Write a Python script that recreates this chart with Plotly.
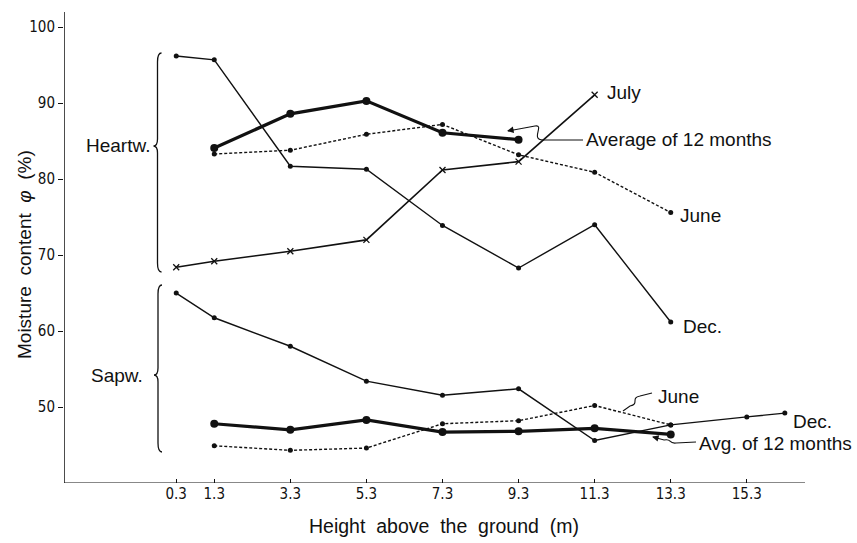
import plotly.graph_objects as go

# ---------------- data ----------------
hw_dec_x = [0.3, 1.3, 3.3, 5.3, 7.3, 9.3, 11.3, 13.3]
hw_dec_y = [96.2, 95.7, 81.7, 81.3, 73.9, 68.3, 74.0, 61.2]

hw_jul_x = [0.3, 1.3, 3.3, 5.3, 7.3, 9.3, 11.3]
hw_jul_y = [68.4, 69.2, 70.5, 72.0, 81.2, 82.3, 91.1]

hw_avg_x = [1.3, 3.3, 5.3, 7.3, 9.3]
hw_avg_y = [84.1, 88.6, 90.3, 86.1, 85.2]

hw_jun_x = [1.3, 3.3, 5.3, 7.3, 9.3, 11.3, 13.3]
hw_jun_y = [83.3, 83.8, 85.9, 87.2, 83.2, 80.9, 75.6]

sw_dec_x = [0.3, 1.3, 3.3, 5.3, 7.3, 9.3, 11.3, 13.3, 15.3, 16.3]
sw_dec_y = [65.0, 61.75, 58.0, 53.4, 51.55, 52.4, 45.6, 47.65, 48.7, 49.2]

sw_avg_x = [1.3, 3.3, 5.3, 7.3, 9.3, 11.3, 13.3]
sw_avg_y = [47.8, 47.0, 48.3, 46.7, 46.8, 47.2, 46.4]

sw_jun_x = [1.3, 3.3, 5.3, 7.3, 9.3, 11.3, 13.3]
sw_jun_y = [44.9, 44.3, 44.6, 47.8, 48.2, 50.2, 47.65]

x_ticks = [0.3, 1.3, 3.3, 5.3, 7.3, 9.3, 11.3, 13.3, 15.3]
x_tick_labels = ["0.3", "1.3", "3.3", "5.3", "7.3", "9.3", "11.3", "13.3", "15.3"]
y_ticks = [50, 60, 70, 80, 90, 100]

# ---------------- layout geometry ----------------
W, H = 857, 543
ML, MR, MT, MB = 64, 52, 12, 60
XR = [-2.65, 16.83]
YR = [40, 102]
pw = W - ML - MR
ph = H - MT - MB


def px2x(px):
    return XR[0] + (px - ML) / pw * (XR[1] - XR[0])


def py2y(py):
    return YR[1] - (py - MT) / ph * (YR[1] - YR[0])


def px2p(px):
    return (px - ML) / pw


def py2p(py):
    return 1 - (py - MT) / ph


BLACK = "#111111"
FONT = "Liberation Sans, Arial, sans-serif"
NARROW = "Liberation Sans Narrow, DejaVu Sans Condensed, Arial, sans-serif"

fig = go.Figure()


def add_line(x, y, width, dash="solid", marker="circle", msize=5, mline=0):
    fig.add_trace(go.Scatter(
        x=x, y=y, mode="lines+markers",
        line=dict(color=BLACK, width=width, dash=dash),
        marker=dict(symbol=marker, size=msize, color=BLACK,
                    line=dict(color=BLACK, width=mline)),
        showlegend=False, hoverinfo="x+y", cliponaxis=False))


add_line(hw_dec_x, hw_dec_y, 1.4)
add_line(hw_jul_x, hw_jul_y, 1.6, marker="x-thin", msize=6, mline=1.3)
add_line(hw_jun_x, hw_jun_y, 1.4, dash="3px,2px", msize=5)
add_line(hw_avg_x, hw_avg_y, 3.2, msize=8)
add_line(sw_dec_x, sw_dec_y, 1.4)
add_line(sw_jun_x, sw_jun_y, 1.4, dash="3px,2px", msize=5)
add_line(sw_avg_x, sw_avg_y, 3.2, msize=8)

shapes = []


def path_str(pts_px):
    s = ""
    for cmd, *ps in pts_px:
        s += cmd + " " + " ".join(f"{px2x(a):.4f},{py2y(b):.4f}" for a, b in ps) + " "
    return s.strip()


def brace(x0, y0, ymid, y1):
    pts = [
        ("M", (x0 + 4, y0)),
        ("Q", (x0, y0), (x0, y0 + 9)),
        ("L", (x0, ymid - 7)),
        ("Q", (x0, ymid), (x0 - 4, ymid)),
        ("Q", (x0, ymid), (x0, ymid + 7)),
        ("L", (x0, y1 - 9)),
        ("Q", (x0, y1), (x0 + 4, y1)),
    ]
    shapes.append(dict(type="path", path=path_str(pts), xref="x", yref="y",
                       line=dict(color=BLACK, width=1.3)))


brace(157.5, 53, 146, 272)
brace(158.0, 285, 375, 452)


def leader(pts_px):
    shapes.append(dict(type="path", path=path_str(pts_px), xref="x", yref="y",
                       line=dict(color=BLACK, width=1.1)))


# heartwood average leader
leader([("M", (583, 140)), ("L", (543, 140)),
        ("C", (530, 140), (545, 124), (535, 126)),
        ("L", (508, 131))])
# sapwood June leader
leader([("M", (652, 393)), ("L", (640, 396)),
        ("C", (630, 398), (640, 404), (630, 406)),
        ("L", (623, 411))])
# sapwood avg leader
leader([("M", (696, 442)), ("L", (676, 443)),
        ("C", (668, 444), (672, 438), (664, 440)),
        ("L", (653, 437))])

# axis lines
shapes.append(dict(type="line", xref="x", yref="y", x0=XR[0], x1=XR[0], y0=YR[0], y1=py2y(6),
                   line=dict(color=BLACK, width=1.5)))
shapes.append(dict(type="line", xref="x", yref="y", x0=XR[0], x1=XR[1], y0=YR[0], y1=YR[0],
                   line=dict(color=BLACK, width=1.0)))

annotations = []


def label(text, px, py, xanchor="left", size=19, font=FONT, textangle=0):
    annotations.append(dict(text=text, x=px2p(px), y=py2p(py), xref="paper", yref="paper",
                            xanchor=xanchor, yanchor="middle", showarrow=False,
                            textangle=textangle,
                            font=dict(family=font, size=size, color=BLACK)))


label("Heartw.", 152, 146, xanchor="right")
label("Sapw.", 145, 375, xanchor="right")
label("July", 605, 93)
label("Average of 12 months", 584, 140)
label("June", 678, 215)
label("Dec.", 681, 326)
label("June", 656, 396)
label("Dec.", 791, 421)
label("Avg. of 12 months", 697, 443)
label("Height  above  the  ground  (m)", 444, 526, xanchor="center", size=19.5)
label("Moisture  content  <i>φ</i>  (%)", 24, 255, xanchor="center", size=19, textangle=-90)

# arrow heads for leaders
for (hx, hy, tx, ty) in [(507, 131, 515, 129.5), (652, 436.7, 659, 438.5)]:
    annotations.append(dict(x=px2x(hx), y=py2y(hy), ax=px2x(tx), ay=py2y(ty),
                            xref="x", yref="y", axref="x", ayref="y", text="",
                            showarrow=True, arrowhead=2, arrowsize=1.2, arrowwidth=1.1,
                            arrowcolor=BLACK))

fig.update_layout(
    width=W, height=H,
    margin=dict(l=ML, r=MR, t=MT, b=MB),
    paper_bgcolor="white", plot_bgcolor="white",
    shapes=shapes, annotations=annotations,
    xaxis=dict(range=XR, tickvals=x_ticks, ticktext=x_tick_labels,
               showgrid=False, zeroline=False, showline=False,
               ticks="inside", ticklen=4, tickcolor=BLACK, tickwidth=1,
               tickfont=dict(family=NARROW, size=15, color=BLACK)),
    yaxis=dict(range=YR, tickvals=y_ticks,
               showgrid=False, zeroline=False, showline=False,
               ticks="outside", ticklen=5, tickcolor=BLACK, tickwidth=1,
               tickfont=dict(family=NARROW, size=15, color=BLACK)),
)

fig.write_html("out.html")
